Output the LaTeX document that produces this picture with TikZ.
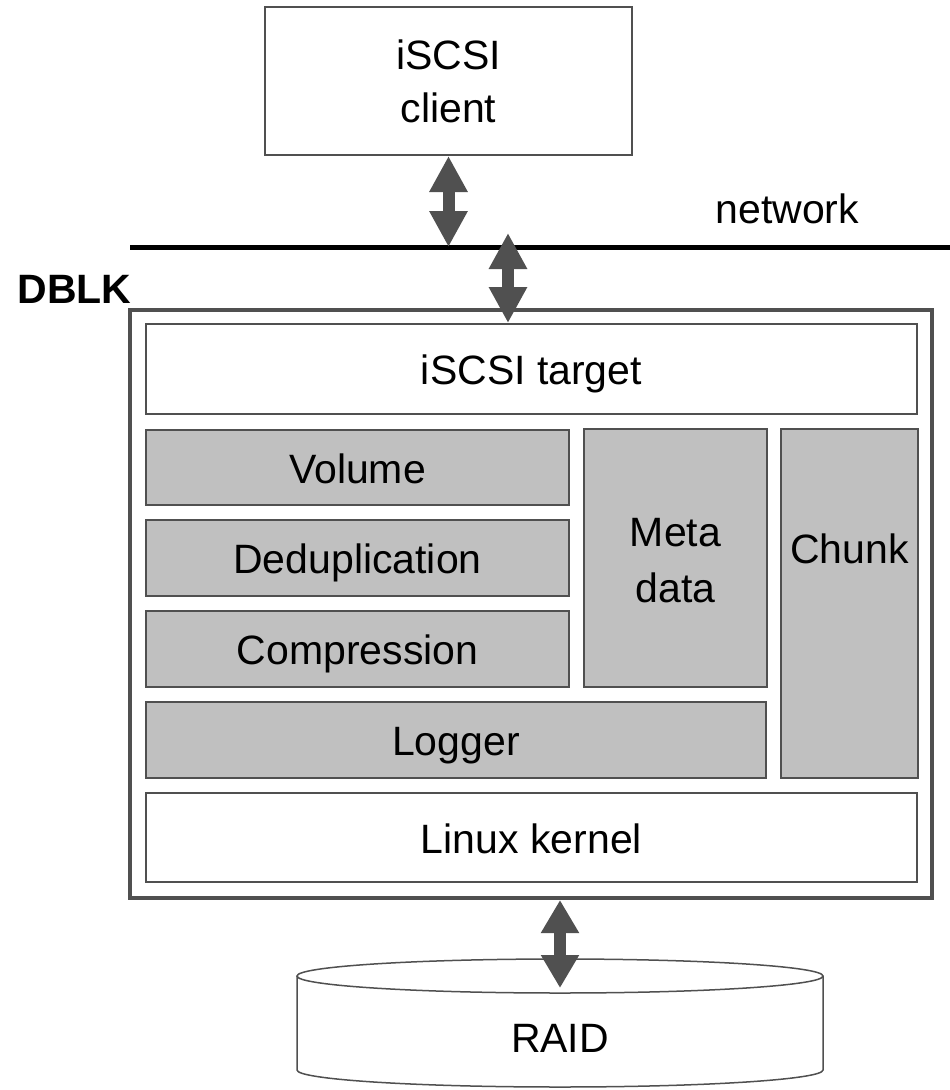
\documentclass[tikz,border=0pt]{standalone}
\usepackage{fontspec}
\setmainfont{Liberation Sans}
\usetikzlibrary{arrows.meta}
\definecolor{edge}{HTML}{505050}
\definecolor{boxfill}{HTML}{C0C0C0}
\tikzset{
  every node/.style={font=\fontsize{41}{53}\selectfont, text=black},
  wbox/.style={draw=edge, line width=2pt, fill=white, inner sep=0pt, align=center},
  gbox/.style={draw=edge, line width=2pt, fill=boxfill, inner sep=0pt, align=center},
  oneline/.style={text height=31pt, text depth=0pt},
  dbl/.style={draw=edge, line width=12pt,
    {Triangle[width=36pt,length=#1]}-{Triangle[width=36pt,length=#1]}},
}
\begin{document}
\begin{tikzpicture}[x=1pt,y=-1pt]
\useasboundingbox (0,0) rectangle (950,1090);
% client
\node[wbox, minimum width=367pt, minimum height=148pt] (client) at (448.5,81) {iSCSI\\client};
% network
\coordinate (netL) at (130,247);
\coordinate (netR) at (950,247);
\draw[black, line width=5pt] (netL) -- (netR);
\node[anchor=base west] (netlabel) at (712,223) {network};
% DBLK
\node[anchor=base west, font=\fontsize{41}{50}\selectfont\bfseries] (dblklabel) at (14,303) {DBLK};
\node[draw=edge, line width=4pt, fill=white, inner sep=0pt, minimum width=802pt, minimum height=588pt] (dblk) at (531,604) {};
\node[wbox, oneline, minimum width=771pt, minimum height=90pt] (target) at (531.5,369) {iSCSI target};
\node[gbox, oneline, minimum width=423pt, minimum height=75pt] (vol) at (357.5,467.5) {Volume};
\node[gbox, oneline, minimum width=423pt, minimum height=76pt] (dedup) at (357.5,558) {Deduplication};
\node[gbox, oneline, minimum width=423pt, minimum height=76pt] (comp) at (357.5,649) {Compression};
\node[gbox, oneline, minimum width=620pt, minimum height=76pt] (logger) at (456,740) {Logger};
\node[gbox, minimum width=183pt, minimum height=258pt] (meta) at (675.5,558) {};
\node[align=center, font=\fontsize{41}{56}\selectfont] (metalabel) at (675.5,561) {Meta\\data};
\node[gbox, minimum width=137pt, minimum height=349pt] (chunk) at (849.5,603.5) {};
\node[oneline] (chunklabel) at (849.5,548) {Chunk};
\node[wbox, oneline, minimum width=771pt, minimum height=89pt] (kernel) at (531.5,837.5) {Linux kernel};
% RAID cylinder
\draw[edge, line width=1.5pt, fill=white] (297,976) -- (297,1070) arc[start angle=180, end angle=0, x radius=263, y radius=17] -- (823,976);
\draw[edge, line width=1.5pt, fill=white] (560,976) ellipse [x radius=263, y radius=17];
\node[oneline] (raid) at (560,1037) {RAID};
\coordinate (raidtop) at (560,988);
% arrows
\coordinate (n1) at (448.5,247);
\coordinate (n2) at (508,233);
\draw[dbl=36pt] (client.south) -- (n1);
\draw[dbl=36pt] (n2) -- (n2 |- target.north);
\draw[dbl=33pt] (dblk.south -| raidtop) -- (raidtop);
\end{tikzpicture}
\end{document}
